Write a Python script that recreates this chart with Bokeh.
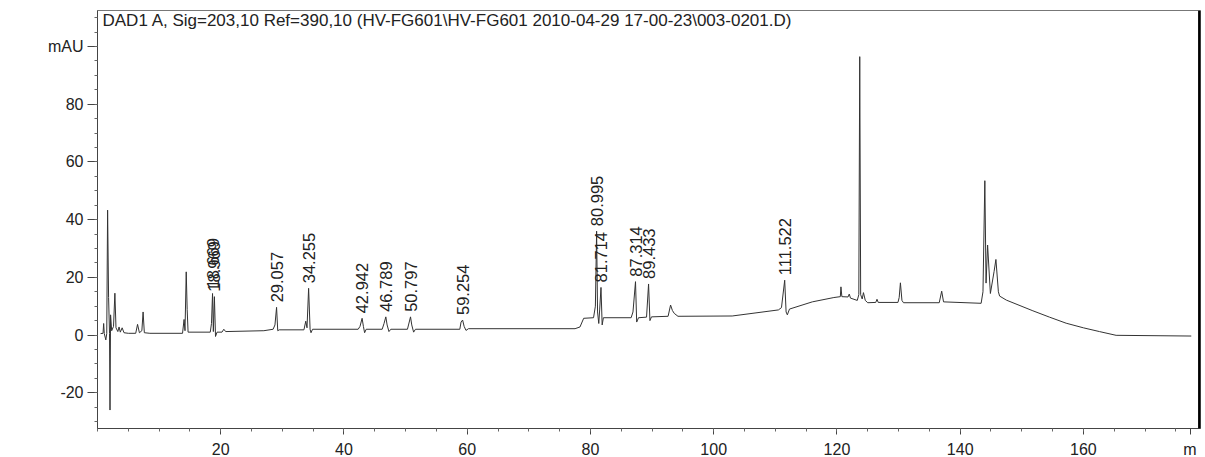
import math
from bokeh.plotting import figure
from bokeh.models import FixedTicker, Label, Span, Range1d, ColumnDataSource
from bokeh.core.properties import value
from bokeh.embed import file_html
from bokeh.resources import INLINE

# ---------------- data ----------------
title_text = "DAD1 A, Sig=203,10 Ref=390,10 (HV-FG601\\HV-FG601 2010-04-29 17-00-23\\003-0201.D)"

rt_min = [
    0.5, 0.9, 1.0, 1.1, 1.35, 1.5, 1.64, 1.8, 1.95, 2.03, 2.12, 2.3, 2.6, 2.82, 3.0, 3.3, 3.5, 3.7, 4.0, 4.3,
    5.0, 6.2, 6.5, 6.8, 7.2, 7.4, 7.6, 8.5, 13.8, 14.05, 14.2, 14.4, 14.55, 14.7,
    18.3, 18.5, 18.67, 18.8, 18.97, 19.15, 19.4, 20.2, 20.5, 20.8,
    27.0, 28.5, 28.8, 29.06, 29.25, 29.5, 33.5, 33.8, 34.0, 34.26, 34.5, 34.65, 34.9,
    42.3, 42.6, 42.94, 43.15, 43.35, 43.6, 46.2, 46.5, 46.79, 47.0, 47.3, 47.6,
    50.3, 50.8, 51.0, 51.3, 51.6, 58.8, 59.0, 59.25, 59.5, 59.8, 60.2,
    77.5, 78.3, 78.9, 80.5, 80.8, 81.0, 81.15, 81.35, 81.5, 81.71, 81.9, 82.1,
    86.6, 86.9, 87.31, 87.5, 87.8, 89.1, 89.43, 89.65, 89.9,
    92.6, 93.0, 93.3, 93.6, 94.2, 103.0, 110.5, 111.0, 111.52, 111.75, 111.95, 112.3,
    116.0, 119.5, 120.55, 120.65, 120.8, 121.8, 122.0, 122.2, 123.3, 123.55, 123.7, 123.85,
    124.1, 124.3, 124.6, 125.0, 126.3, 126.5, 126.7, 129.9, 130.1, 130.3, 130.55, 130.8,
    136.6, 137.0, 137.3, 143.4, 143.7, 144.0, 144.2, 144.45, 144.9, 145.5, 145.8, 146.2, 146.4,
    147.5, 151.8, 154.5, 157.2, 160.0, 162.6, 165.3, 177.5,
]
signal_mau = [
    0.5, 0.6, 4.0, 0.5, -1.7, 0.5, 43.3, 13.0, 0.5, -26.0, 7.0, 1.5, 3.0, 14.5, 2.5, 1.2, 2.8, 1.0, 2.5, 0.8,
    0.6, 0.6, 3.7, 0.8, 1.5, 8.0, 0.8, 0.6, 0.6, 5.4, 1.5, 21.9, 8.9, 1.0,
    1.0, 4.0, 14.4, 1.2, 13.3, -0.5, 1.0, 1.0, 2.0, 1.2,
    1.5, 2.0, 3.5, 9.6, 1.5, 1.8, 1.8, 4.8, 2.5, 16.2, 2.0, 0.8, 2.0,
    2.0, 3.0, 5.8, 3.0, 0.8, 2.0, 2.0, 4.0, 6.3, 3.5, 1.2, 2.0,
    2.0, 6.3, 3.5, 1.0, 2.0, 2.0, 4.5, 5.2, 3.0, 1.6, 2.2,
    2.2, 2.8, 5.8, 6.0, 10.0, 36.0, 8.0, 4.0, 9.0, 16.5, 3.5, 6.0,
    6.0, 8.0, 18.5, 4.5, 6.0, 6.2, 17.7, 5.0, 6.3,
    6.5, 10.4, 8.5, 7.5, 6.5, 6.6, 8.7, 9.5, 19.0, 8.0, 7.0, 9.0,
    11.5, 13.0, 13.3, 16.7, 13.3, 13.2, 14.2, 12.8, 12.0, 14.0, 96.5, 14.0,
    12.5, 14.7, 12.0, 11.2, 11.3, 12.4, 11.3, 11.3, 13.0, 18.1, 12.0, 11.2,
    11.2, 15.2, 11.5, 11.0, 15.0, 53.5, 18.0, 31.2, 14.4, 22.0, 26.2, 15.0, 13.5,
    12.1, 8.4, 6.2, 4.1, 2.5, 1.2, -0.1, -0.35,
]

peak_labels = ["18.669", "18.969", "29.057", "34.255", "42.942", "46.789", "50.797",
               "59.254", "80.995", "81.714", "87.314", "89.433", "111.522"]
peak_rt = [18.67, 18.97, 29.06, 34.26, 42.94, 46.79, 50.80, 59.25, 81.0, 81.71, 87.31, 89.43, 111.52]
peak_apex = [14.4, 13.3, 9.6, 16.2, 5.8, 6.3, 6.3, 5.2, 36.0, 16.5, 18.5, 17.7, 19.0]

y_major = [-20, 0, 20, 40, 60, 80, 100]
y_tick_text = {100: "mAU", -20: "-20"}
x_major = [20, 40, 60, 80, 100, 120, 140, 160]
x_unit_pos = 177.3
x_unit_text = "m"

# ---------------- figure ----------------
FONT = "Liberation Sans"
p = figure(
    width=1205, height=457, frame_width=1103, frame_height=418,
    min_border_left=97, min_border_right=5, min_border_top=10, min_border_bottom=29,
    x_range=Range1d(0, 179), y_range=Range1d(-32.4, 112.5),
    output_backend="svg", toolbar_location=None,
)
p.background_fill_color = "white"
p.border_fill_color = "white"
p.outline_line_color = "#777777"
p.outline_line_width = 1
p.xgrid.visible = False
p.ygrid.visible = False

# y axis
p.yaxis.ticker = FixedTicker(ticks=y_major, minor_ticks=list(range(-30, 111, 5)))
p.yaxis.major_label_overrides = y_tick_text
p.yaxis.major_tick_out = 10
p.yaxis.major_tick_in = 0
p.yaxis.minor_tick_out = 3
p.yaxis.minor_tick_in = 0
p.yaxis.major_label_standoff = 4
p.yaxis.axis_line_color = "#444444"
p.yaxis.major_tick_line_color = "#444444"
p.yaxis.minor_tick_line_color = "#666666"
p.yaxis.major_label_text_font = FONT
p.yaxis.major_label_text_font_size = "16px"
p.yaxis.major_label_text_color = "#222222"

# x axis (the trailing "m" is the clipped time unit at the right end)
x_overrides = {x_unit_pos: x_unit_text}
p.xaxis.ticker = FixedTicker(ticks=x_major + [x_unit_pos], minor_ticks=list(range(0, 180, 5)))
p.xaxis.major_label_overrides = x_overrides
p.xaxis.major_tick_out = 6
p.xaxis.major_tick_in = 0
p.xaxis.minor_tick_out = 3
p.xaxis.minor_tick_in = 0
p.xaxis.major_label_standoff = 6
p.xaxis.axis_line_color = "#444444"
p.xaxis.major_tick_line_color = "#444444"
p.xaxis.minor_tick_line_color = "#666666"
p.xaxis.major_label_text_font = FONT
p.xaxis.major_label_text_font_size = "16px"
p.xaxis.major_label_text_color = "#222222"

# chromatogram trace
p.line(rt_min, signal_mau, line_color="#333333", line_width=1)

# peak labels
src = ColumnDataSource(dict(x=peak_rt, y=peak_apex, t=peak_labels))
p.text(x="x", y="y", text="t", source=src, angle=math.pi / 2, y_offset=-5,
       text_align="left", text_baseline="middle",
       text_font=value(FONT), text_font_size="16.5px", text_color="#222222")

# right edge thick border
p.add_layout(Span(location=178.85, dimension="height", line_color="black", line_width=3))

# title
p.add_layout(Label(x=5, y=408, x_units="screen", y_units="screen", text=title_text,
                   text_font=FONT, text_font_size="17px", text_color="#222222",
                   text_baseline="middle", text_align="left"))

open("out.html", "w").write(file_html(p, INLINE))
